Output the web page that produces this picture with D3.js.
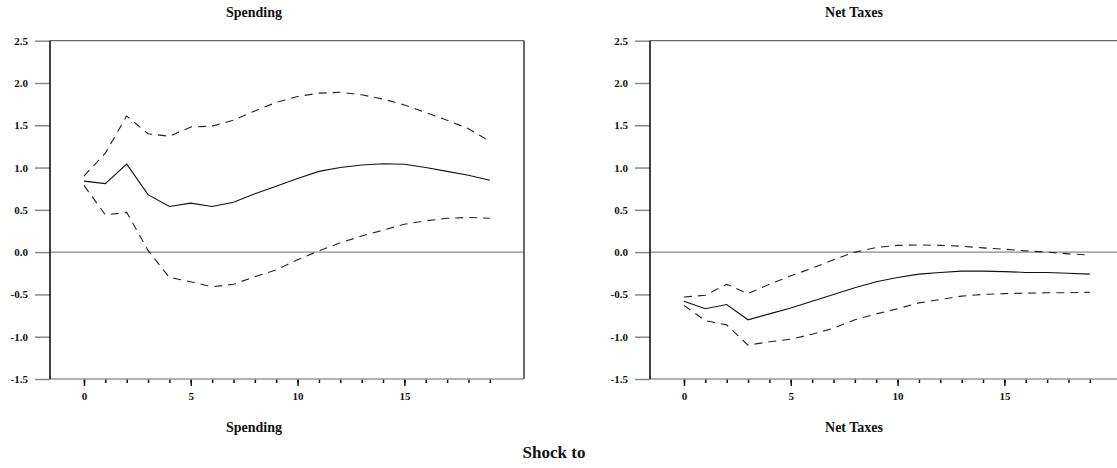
<!DOCTYPE html>
<html>
<head>
<meta charset="utf-8">
<script src="https://cdn.jsdelivr.net/npm/d3@7"></script>
<style>
  html, body { margin: 0; padding: 0; background: #fff; }
  svg { display: block; }
  text { font-family: "Liberation Serif", "Times New Roman", serif; font-weight: bold; fill: #111; }
</style>
</head>
<body>
<svg id="chart" width="1117" height="468"></svg>
<script>
// ---- data ----
const horizons = d3.range(0, 20);
const panelTitles = ["Spending", "Net Taxes"];
const shockLabel = "Shock to";

const spendingPoint = [0.84, 0.81, 1.04, 0.68, 0.54, 0.58, 0.54, 0.59, 0.69, 0.78,
                       0.87, 0.955, 1.00, 1.03, 1.045, 1.04, 1.00, 0.955, 0.91, 0.85];
const spendingUpper = [0.90, 1.17, 1.61, 1.40, 1.37, 1.48, 1.49, 1.56, 1.67, 1.77,
                       1.84, 1.88, 1.89, 1.86, 1.81, 1.74, 1.65, 1.56, 1.46, 1.31];
const spendingLower = [0.79, 0.44, 0.47, 0.02, -0.30, -0.35, -0.41, -0.38, -0.29, -0.21,
                       -0.09, 0.015, 0.11, 0.19, 0.26, 0.33, 0.37, 0.40, 0.41, 0.40];

const taxesPoint = [-0.58, -0.67, -0.62, -0.80, -0.73, -0.66, -0.58, -0.50, -0.42, -0.35,
                    -0.30, -0.26, -0.24, -0.225, -0.225, -0.23, -0.24, -0.24, -0.25, -0.26];
const taxesUpper = [-0.53, -0.51, -0.38, -0.49, -0.38, -0.28, -0.19, -0.09, 0.00, 0.055,
                    0.08, 0.085, 0.08, 0.07, 0.05, 0.035, 0.015, 0.0, -0.02, -0.035];
const taxesLower = [-0.63, -0.81, -0.86, -1.10, -1.06, -1.03, -0.97, -0.90, -0.80, -0.73,
                    -0.67, -0.60, -0.56, -0.52, -0.50, -0.49, -0.485, -0.48, -0.48, -0.475];

const yTicks = [-1.5, -1.0, -0.5, 0.0, 0.5, 1.0, 1.5, 2.0, 2.5];
const yTickLabels = ["-1.5", "-1.0", "-0.5", "0.0", "0.5", "1.0", "1.5", "2.0", "2.5"];
const xMajorTicks = [0, 5, 10, 15];
const xTickLabels = ["0", "5", "10", "15"];

const panels = [
  { title: panelTitles[0], point: spendingPoint, upper: spendingUpper, lower: spendingLower },
  { title: panelTitles[1], point: taxesPoint, upper: taxesUpper, lower: taxesLower }
];

// ---- layout ----
const svg = d3.select("#chart");
const panelOffset = 600;
const x = d3.scaleLinear().domain([-1.59, 20.6]).range([50, 524]);
const y = d3.scaleLinear().domain([-1.5, 2.5]).range([379, 40.7]);
const line = d3.line().x((d, i) => x(horizons[i])).y(d => y(d));
const tickFont = '"Liberation Serif", "Times New Roman", serif';

panels.forEach((p, k) => {
  const g = svg.append("g").attr("transform", `translate(${k * panelOffset},0)`);

  g.append("text").attr("x", 254).attr("y", 17).attr("text-anchor", "middle")
    .style("font-size", "14px").text(p.title);
  g.append("text").attr("x", 254).attr("y", 432).attr("text-anchor", "middle")
    .style("font-size", "14px").text(p.title);

  // y axis ticks & labels
  const yAxis = g.append("g").attr("transform", `translate(${x.range()[0]},0)`)
    .call(d3.axisLeft(y).tickValues(yTicks).tickSize(15).tickPadding(7)
      .tickFormat((d, i) => yTickLabels[i]));
  yAxis.select(".domain").remove();
  yAxis.selectAll(".tick line").attr("stroke", "#888").attr("stroke-width", 1.5);
  yAxis.selectAll(".tick text").style("font-size", "11px").attr("fill", "#111")
    .style("font-family", tickFont).style("font-weight", "bold");

  // zero line
  g.append("line").attr("x1", x.range()[0]).attr("x2", x.range()[1])
    .attr("y1", y(0)).attr("y2", y(0)).attr("stroke", "#888").attr("stroke-width", 1.3);

  // frame top & right
  g.append("line").attr("x1", x.range()[0]).attr("x2", x.range()[1])
    .attr("y1", y(2.5)).attr("y2", y(2.5)).attr("stroke", "#666").attr("stroke-width", 1.2);
  g.append("line").attr("x1", x.range()[1]).attr("x2", x.range()[1])
    .attr("y1", y(2.5)).attr("y2", y(-1.5)).attr("stroke", "#444").attr("stroke-width", 1.6);

  // x axis: minor ticks
  const xMinor = g.append("g").attr("transform", `translate(0,${y(-1.5)})`)
    .call(d3.axisBottom(x).tickValues(horizons).tickSize(4).tickFormat(""));
  xMinor.select(".domain").remove();
  xMinor.selectAll(".tick line").attr("stroke", "#111").attr("stroke-width", 1.5);
  // x axis: major ticks with labels
  const xMajor = g.append("g").attr("transform", `translate(0,${y(-1.5)})`)
    .call(d3.axisBottom(x).tickValues(xMajorTicks).tickSize(7).tickPadding(6)
      .tickFormat((d, i) => xTickLabels[i]));
  xMajor.select(".domain").remove();
  xMajor.selectAll(".tick line").attr("stroke", "#111").attr("stroke-width", 1.5);
  xMajor.selectAll(".tick text").style("font-size", "11px").attr("fill", "#111")
    .style("font-family", tickFont).style("font-weight", "bold");

  g.append("line").attr("x1", x.range()[0]).attr("x2", x.range()[1])
    .attr("y1", y(-1.5)).attr("y2", y(-1.5)).attr("stroke", "#999").attr("stroke-width", 1.6);
  g.append("line").attr("x1", x.range()[0]).attr("x2", x.range()[0])
    .attr("y1", y(2.5)).attr("y2", y(-1.5)).attr("stroke", "#111").attr("stroke-width", 1.6);

  // series
  g.append("path").datum(p.upper).attr("d", line).attr("fill", "none")
    .attr("stroke", "#222").attr("stroke-width", 1.1).attr("stroke-dasharray", "8,6");
  g.append("path").datum(p.lower).attr("d", line).attr("fill", "none")
    .attr("stroke", "#222").attr("stroke-width", 1.1).attr("stroke-dasharray", "8,6");
  g.append("path").datum(p.point).attr("d", line).attr("fill", "none")
    .attr("stroke", "#111").attr("stroke-width", 1.1);
});

svg.append("text").attr("x", 554).attr("y", 458).attr("text-anchor", "middle")
  .style("font-size", "17px").text(shockLabel);
</script>
</body>
</html>
